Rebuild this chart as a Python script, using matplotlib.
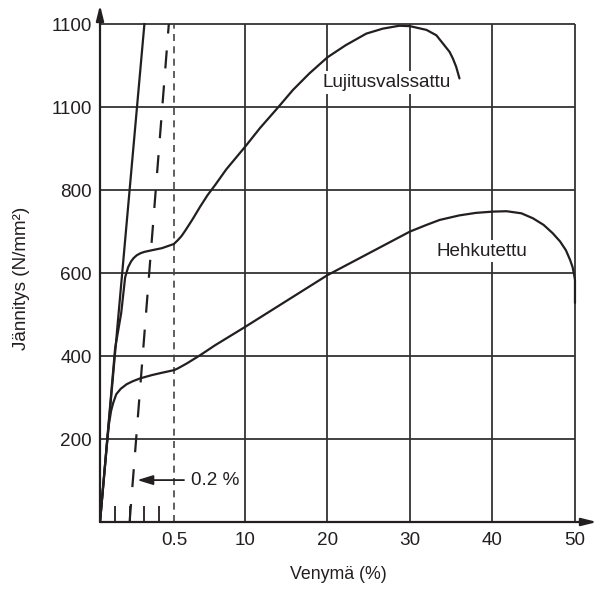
import numpy as np
import matplotlib
matplotlib.use("Agg")
import matplotlib.pyplot as plt
from matplotlib.scale import FuncScale

# ---------------- data ----------------
x_ticks = [0.5, 10, 20, 30, 40, 50]
x_tick_labels = ["0.5", "10", "20", "30", "40", "50"]
x_minor_ticks = [0.1, 0.2, 0.3, 0.4]
y_ticks = [200, 400, 600, 800, 1000, 1200]
y_tick_labels = ["200", "400", "600", "800", "1100", "1100"]

elastic_strain = [0.0, 0.3]
elastic_stress = [0, 1200]

offset_strain = [0.2, 0.465]
offset_stress = [0, 1200]

cold_strain = [0.0, 0.102, 0.143, 0.170, 0.190, 0.210, 0.227, 0.249, 0.275, 0.30, 0.351, 0.419,
               0.499, 1.0, 1.5, 2.0, 2.5, 3.0, 4.0, 5.0, 6.0, 7.5, 10, 11.8, 14.0, 15.8, 17.8,
               20.0, 22.2, 24.7, 26.7, 28.7, 30.0, 32.0, 33.2, 34.0, 34.8, 35.2, 35.6, 36.0]
cold_stress = [0, 418, 503, 590, 614, 628, 636, 643, 648, 651, 655, 660,
               670, 679, 689, 702, 716, 730, 760, 788, 812, 850, 904, 949, 999, 1041, 1081,
               1120, 1149, 1177, 1189, 1196, 1195, 1186, 1173, 1153, 1133, 1117, 1097, 1069]

ann_strain = [0.0, 0.05, 0.06, 0.075, 0.09, 0.11, 0.14, 0.18, 0.22, 0.27, 0.35, 0.41, 0.5,
              1.0, 2.2, 4.0, 6.0, 8.0, 10, 20, 30, 32.0, 33.6, 36, 38, 40, 41.7, 43.5, 44.9,
              46.2, 47.3, 48.2, 48.9, 49.4, 49.7, 49.9, 50.0, 50.0]
ann_stress = [0, 200, 235, 268, 288, 308, 321, 332, 339, 346, 354, 359, 366,
              370, 382, 402, 426, 448, 470, 595, 700, 716, 728, 739, 745, 748, 749, 744, 732,
              716, 696, 676, 655, 632, 615, 596, 583, 528]

grid_x = [10, 20, 30, 40, 50]
grid_y = [200, 400, 600, 800, 1000, 1200]

# ---------------- scale ----------------
XB = np.array([0.0, 0.5, 10.0, 50.0, 60.0])
PB = np.array([0.0, 74.0, 145.0, 475.0, 557.5])


def fwd(x):
    return np.interp(np.asarray(x, dtype=float), XB, PB)


def inv(p):
    return np.interp(np.asarray(p, dtype=float), PB, XB)


FONT = ["Liberation Sans", "DejaVu Sans"]
plt.rcParams["font.family"] = FONT
INK = "#231f20"

fig = plt.figure(figsize=(5.98, 5.91), dpi=100)
ax = fig.add_axes([100 / 598, 69 / 591, 497 / 598, 517 / 591])
ax.set_xscale(FuncScale(ax, (fwd, inv)))
ax.set_xlim(0, 52.67)
ax.set_ylim(0, 1246)

for s in ax.spines.values():
    s.set_visible(False)

# grid
ax.hlines(grid_y, 0, 50, colors="#333333", lw=1.3, zorder=1)
ax.vlines(grid_x, 0, 1200, colors="#333333", lw=1.3, zorder=1)
ax.vlines([0.5], 0, 1200, colors="#444444", lw=1.2, linestyles=[(0, (4.2, 3.2))], zorder=1)

# axes arrows
arrow_style = "-|>,head_length=0.6,head_width=0.15"
ax.annotate("", xy=(0, 1), xytext=(0, 0), xycoords="axes fraction",
            arrowprops=dict(arrowstyle=arrow_style, lw=1.6, color=INK, mutation_scale=15,
                            shrinkA=0, shrinkB=0), zorder=5)
ax.annotate("", xy=(1, 0), xytext=(0, 0), xycoords="axes fraction",
            arrowprops=dict(arrowstyle=arrow_style, lw=1.6, color=INK, mutation_scale=15,
                            shrinkA=0, shrinkB=0), zorder=5)

# curves
lw = 1.6
ax.plot(elastic_strain, elastic_stress, color=INK, lw=lw, zorder=3)
ax.plot(offset_strain, offset_stress, color=INK, lw=lw, zorder=3,
        linestyle=(0, (12.96 / lw, 12.24 / lw)))
ax.plot(cold_strain, cold_stress, color=INK, lw=lw, zorder=3,
        solid_capstyle="round", solid_joinstyle="round")
ax.plot(ann_strain, ann_stress, color=INK, lw=lw, zorder=3,
        solid_capstyle="round", solid_joinstyle="round")

# ticks
ax.set_xticks(x_ticks)
ax.set_xticklabels(x_tick_labels)
ax.set_xticks(x_minor_ticks, minor=True)
ax.set_yticks(y_ticks)
ax.set_yticklabels(y_tick_labels)
ax.tick_params(axis="both", which="major", length=0, labelsize=13.6, labelcolor=INK)
ax.tick_params(axis="x", which="major", pad=7)
ax.tick_params(axis="y", which="major", pad=6)
ax.tick_params(axis="x", which="minor", direction="in", length=11.5, width=1.3, color=INK)
ax.tick_params(axis="y", which="minor", length=0)

# labels
ax.text(0.479, -0.1025, "Venymä (%)", transform=ax.transAxes, ha="center", va="center",
        fontsize=12.8, color=INK)
ax.text(-0.157, 0.472, "Jännitys (N/mm²)", transform=ax.transAxes, ha="center", va="center",
        rotation=90, fontsize=13.6, color=INK)

bbox = dict(facecolor="white", edgecolor="none", pad=2)
ax.text(27.2, 1060, "Lujitusvalssattu", ha="center", va="center", fontsize=13.6, color=INK,
        bbox=bbox, zorder=4)
ax.text(38.7, 653, "Hehkutettu", ha="center", va="center", fontsize=13.6, color=INK,
        bbox=bbox, zorder=4)
ax.annotate("0.2 %", xy=(0.252, 101), xytext=(2.77, 101), ha="left", va="center",
            fontsize=13.6, color=INK,
            arrowprops=dict(arrowstyle="-|>,head_length=0.94,head_width=0.29", lw=1.3,
                            color=INK, mutation_scale=10, shrinkA=3, shrinkB=0), zorder=4)

fig.savefig("out.png", dpi=100)
